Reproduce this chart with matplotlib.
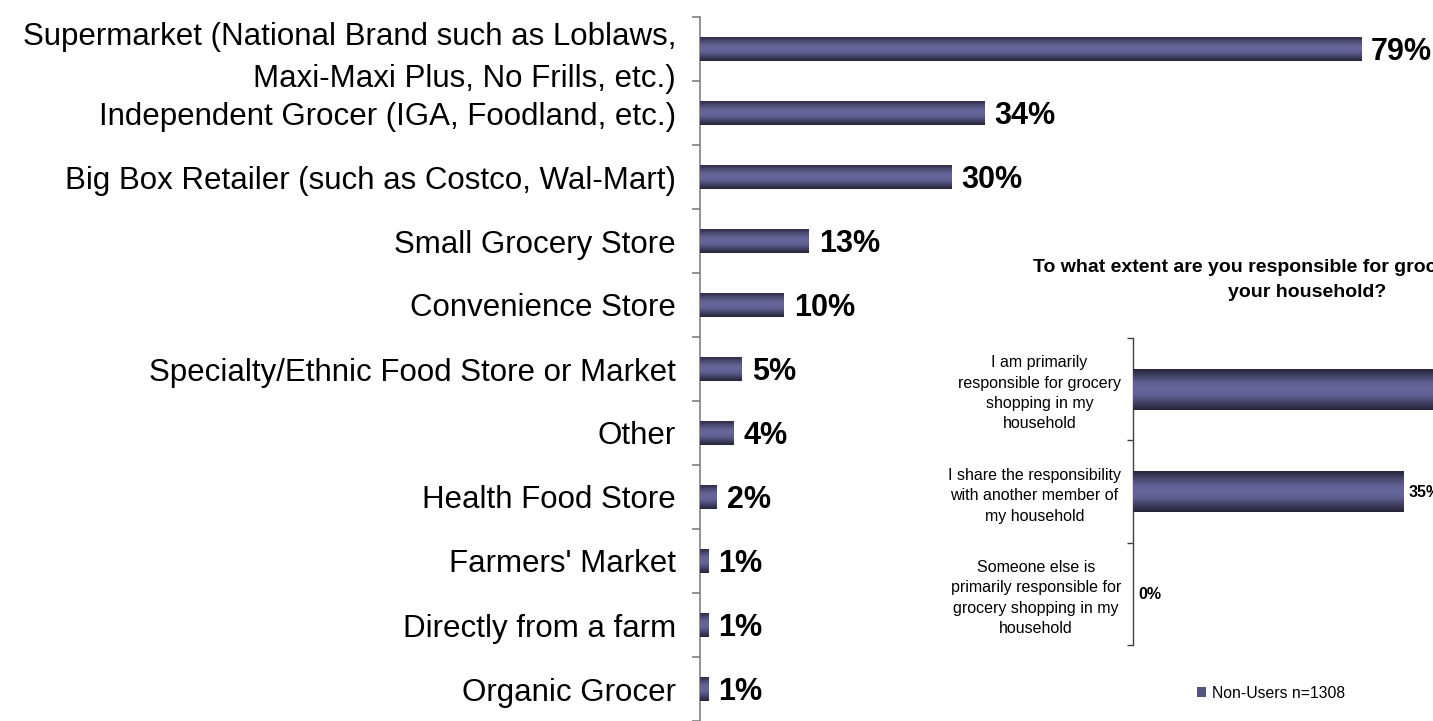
import numpy as np
import matplotlib.pyplot as plt
from matplotlib.colors import LinearSegmentedColormap

plt.rcParams['font.family'] = ['Liberation Sans', 'DejaVu Sans']

# where shoppers buy groceries
stores = [
    "Supermarket (National Brand such as Loblaws,\nMaxi-Maxi Plus, No Frills, etc.)",
    "Independent Grocer (IGA, Foodland, etc.)",
    "Big Box Retailer (such as Costco, Wal-Mart)",
    "Small Grocery Store",
    "Convenience Store",
    "Specialty/Ethnic Food Store or Market",
    "Other",
    "Health Food Store",
    "Farmers' Market",
    "Directly from a farm",
    "Organic Grocer",
]
store_pct = [79, 34, 30, 13, 10, 5, 4, 2, 1, 1, 1]

# inset: responsibility for grocery shopping
resp_labels = [
    "I am primarily\nresponsible for grocery\nshopping in my\nhousehold",
    "I share the responsibility\nwith another member of\nmy household",
    "Someone else is\nprimarily responsible for\ngrocery shopping in my\nhousehold",
]
resp_pct = [65, 35, 0]
inset_title = "To what extent are you responsible for grocery shopping in\nyour household?"
legend_label = "Non-Users n=1308"

W, H = 1433, 721
fig = plt.figure(figsize=(W / 100, H / 100), dpi=100)

bar_cmap = LinearSegmentedColormap.from_list(
    "cyl", ["#28263c", "#454468", "#5f5f90", "#67679b", "#5d5d8d", "#403f62", "#27253a"])
grad = np.linspace(0, 1, 64).reshape(-1, 1)


def shade(ax, bars):
    # cylinder-like vertical gradient on each bar
    for b in bars:
        x0, y0, w, h = b.get_x(), b.get_y(), b.get_width(), b.get_height()
        if w <= 0:
            continue
        im = ax.imshow(grad, cmap=bar_cmap, aspect="auto", interpolation="bilinear",
                       extent=(x0, x0 + w, y0 + h, y0), zorder=3)
        im.set_clip_path(b)


# ---- main chart
ax = fig.add_axes([700 / W, 0, 733 / W, 1 - 17 / H])
y = np.arange(len(stores))
bars = ax.barh(y, store_pct, height=0.38, color="#55557f", zorder=2)
shade(ax, bars)
for i, v in enumerate(store_pct):
    ax.annotate(f"{v}%", (v, i), xytext=(10, -3), textcoords="offset pixels",
                va="center", ha="left", fontsize=22, fontweight="bold")

ax.set_xlim(0, 733 / 8.37)
ax.set_ylim(len(stores) - 0.5, -0.5)
ax.set_xticks([])
ax.set_yticks(y)
ax.set_yticklabels(stores, fontsize=22.5, multialignment="right", linespacing=1.5)
ax.set_yticks(np.arange(-0.5, len(stores), 1), minor=True)
ax.tick_params(axis="y", which="major", length=0, pad=17.3)
ax.tick_params(axis="y", which="minor", length=6, width=1.2, color="#808080")
for s in ["top", "right", "bottom"]:
    ax.spines[s].set_visible(False)
ax.spines["left"].set_color("#808080")
ax.spines["left"].set_linewidth(1.2)

# ---- inset chart
axi = fig.add_axes([1133 / W, 1 - 645 / H, 0.5, (645 - 338) / H])
yi = np.arange(len(resp_labels))
ibars = axi.barh(yi, resp_pct, height=0.4, color="#55557f", zorder=2)
shade(axi, ibars)
for i, v in enumerate(resp_pct):
    axi.annotate(f"{v}%", (v, i), xytext=(5, -1), textcoords="offset pixels",
                 va="center", ha="left", fontsize=11.5, fontweight="bold")

axi.set_xlim(0, 0.5 * W / 7.74)
axi.set_ylim(len(resp_labels) - 0.5, -0.5)
axi.set_xticks([])
axi.set_yticks(yi)
axi.set_yticklabels(resp_labels, fontsize=11.5, multialignment="center", linespacing=1.45)
axi.set_yticks(np.arange(-0.5, len(resp_labels), 1), minor=True)
axi.tick_params(axis="y", which="major", length=0, pad=8.6)
axi.tick_params(axis="y", which="minor", length=4, width=1, color="#404040")
for s in ["top", "right", "bottom"]:
    axi.spines[s].set_visible(False)
axi.spines["left"].set_color("#404040")
axi.spines["left"].set_linewidth(1)

fig.text(1307 / W, 1 - 280 / H, inset_title, ha="center", va="center",
         fontsize=14, fontweight="bold", linespacing=1.55)

axi.legend([ibars[0]], [legend_label], loc="center left", frameon=False,
           bbox_to_anchor=(1197 / W, 1 - 693 / H), bbox_transform=fig.transFigure,
           fontsize=11.3, handlelength=0.55, handleheight=0.55, handletextpad=0.4,
           borderpad=0, borderaxespad=0)

fig.savefig("out.png", dpi=100)
